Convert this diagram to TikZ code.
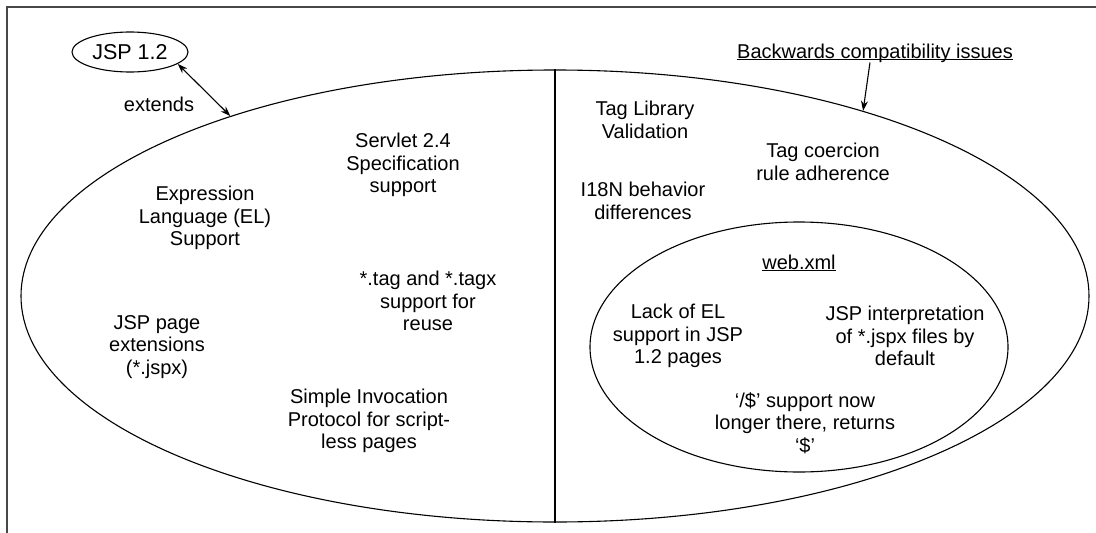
\documentclass[tikz,border=0pt]{standalone}
\usepackage{fontspec}
\setmainfont{Liberation Sans}
\usetikzlibrary{shapes.geometric,arrows.meta}
\newcommand\myul[1]{\setbox0\hbox{#1}\rlap{\rule[-2.2pt]{\wd0}{0.9pt}}\box0}
\begin{document}
\begin{tikzpicture}[x=1pt,y=-1pt,
  txt/.style={align=center, font=\fontsize{20}{22.4}\selectfont, inner sep=0pt},
  ell/.style={draw, ellipse, line width=1.1pt, inner sep=0pt},
  tip/.style={line width=1.1pt},
  frame/.style={line width=1.8pt, draw=black!72}]
\useasboundingbox (0,0) rectangle (1096,533);
\coordinate (tl) at (7,7);
\coordinate (tr) at (1096,7);
\coordinate (bl) at (7,533);
\draw[frame] (tr) -- (tl) -- (bl);
\node[ell, minimum width=1068pt, minimum height=452pt] (outer) at (555,296) {};
\node[ell, minimum width=418pt, minimum height=250pt] (inner) at (799,347) {};
\node[ell, minimum width=116pt, minimum height=40pt, font=\fontsize{21.5}{24}\selectfont] (jsp) at (130,52) {JSP 1.2};
\draw[line width=1.1pt] (outer.north) -- (outer.south);
\draw[tip, {Stealth[length=10pt,width=7pt]}-{Stealth[length=10pt,width=7pt]}] (jsp.-14) -- (outer.151.5);
\node[txt] (el) at (205,218) {Expression\\Language (EL)\\Support};
\node[txt] (servlet) at (403,165) {Servlet 2.4\\Specification\\support};
\node[txt] (tag) at (428,301) {*.tag and *.tagx\\support for\\reuse};
\node[txt] (jspx) at (157,347) {JSP page\\extensions\\(*.jspx)};
\node[txt] (sip) at (369,421) {Simple Invocation\\Protocol for script-\\less pages};
\node[txt] (tlv) at (645,120) {Tag Library\\Validation};
\node[txt] (tcr) at (823,162) {Tag coercion\\rule adherence};
\node[txt] (i18n) at (643,201) {I18N behavior\\differences};
\node[txt] (web) at (799,263) {\myul{web.xml}};
\node[txt] (lack) at (678,336) {Lack of EL\\support in JSP\\1.2 pages};
\node[txt] (interp) at (905,336) {JSP interpretation\\of *.jspx files by\\default};
\node[txt] (dollar) at (805,423) {‘/\$’ support now\\longer there, returns\\‘\$’};
\node[txt] (ext) at (159,104) {extends};
\node[txt] (bci) at (875,53) {\myul{Backwards compatibility issues}};
\draw[tip, -{Stealth[length=10pt,width=7pt]}] ([xshift=-5pt]bci.south) -- (outer.31.9);
\end{tikzpicture}
\end{document}
